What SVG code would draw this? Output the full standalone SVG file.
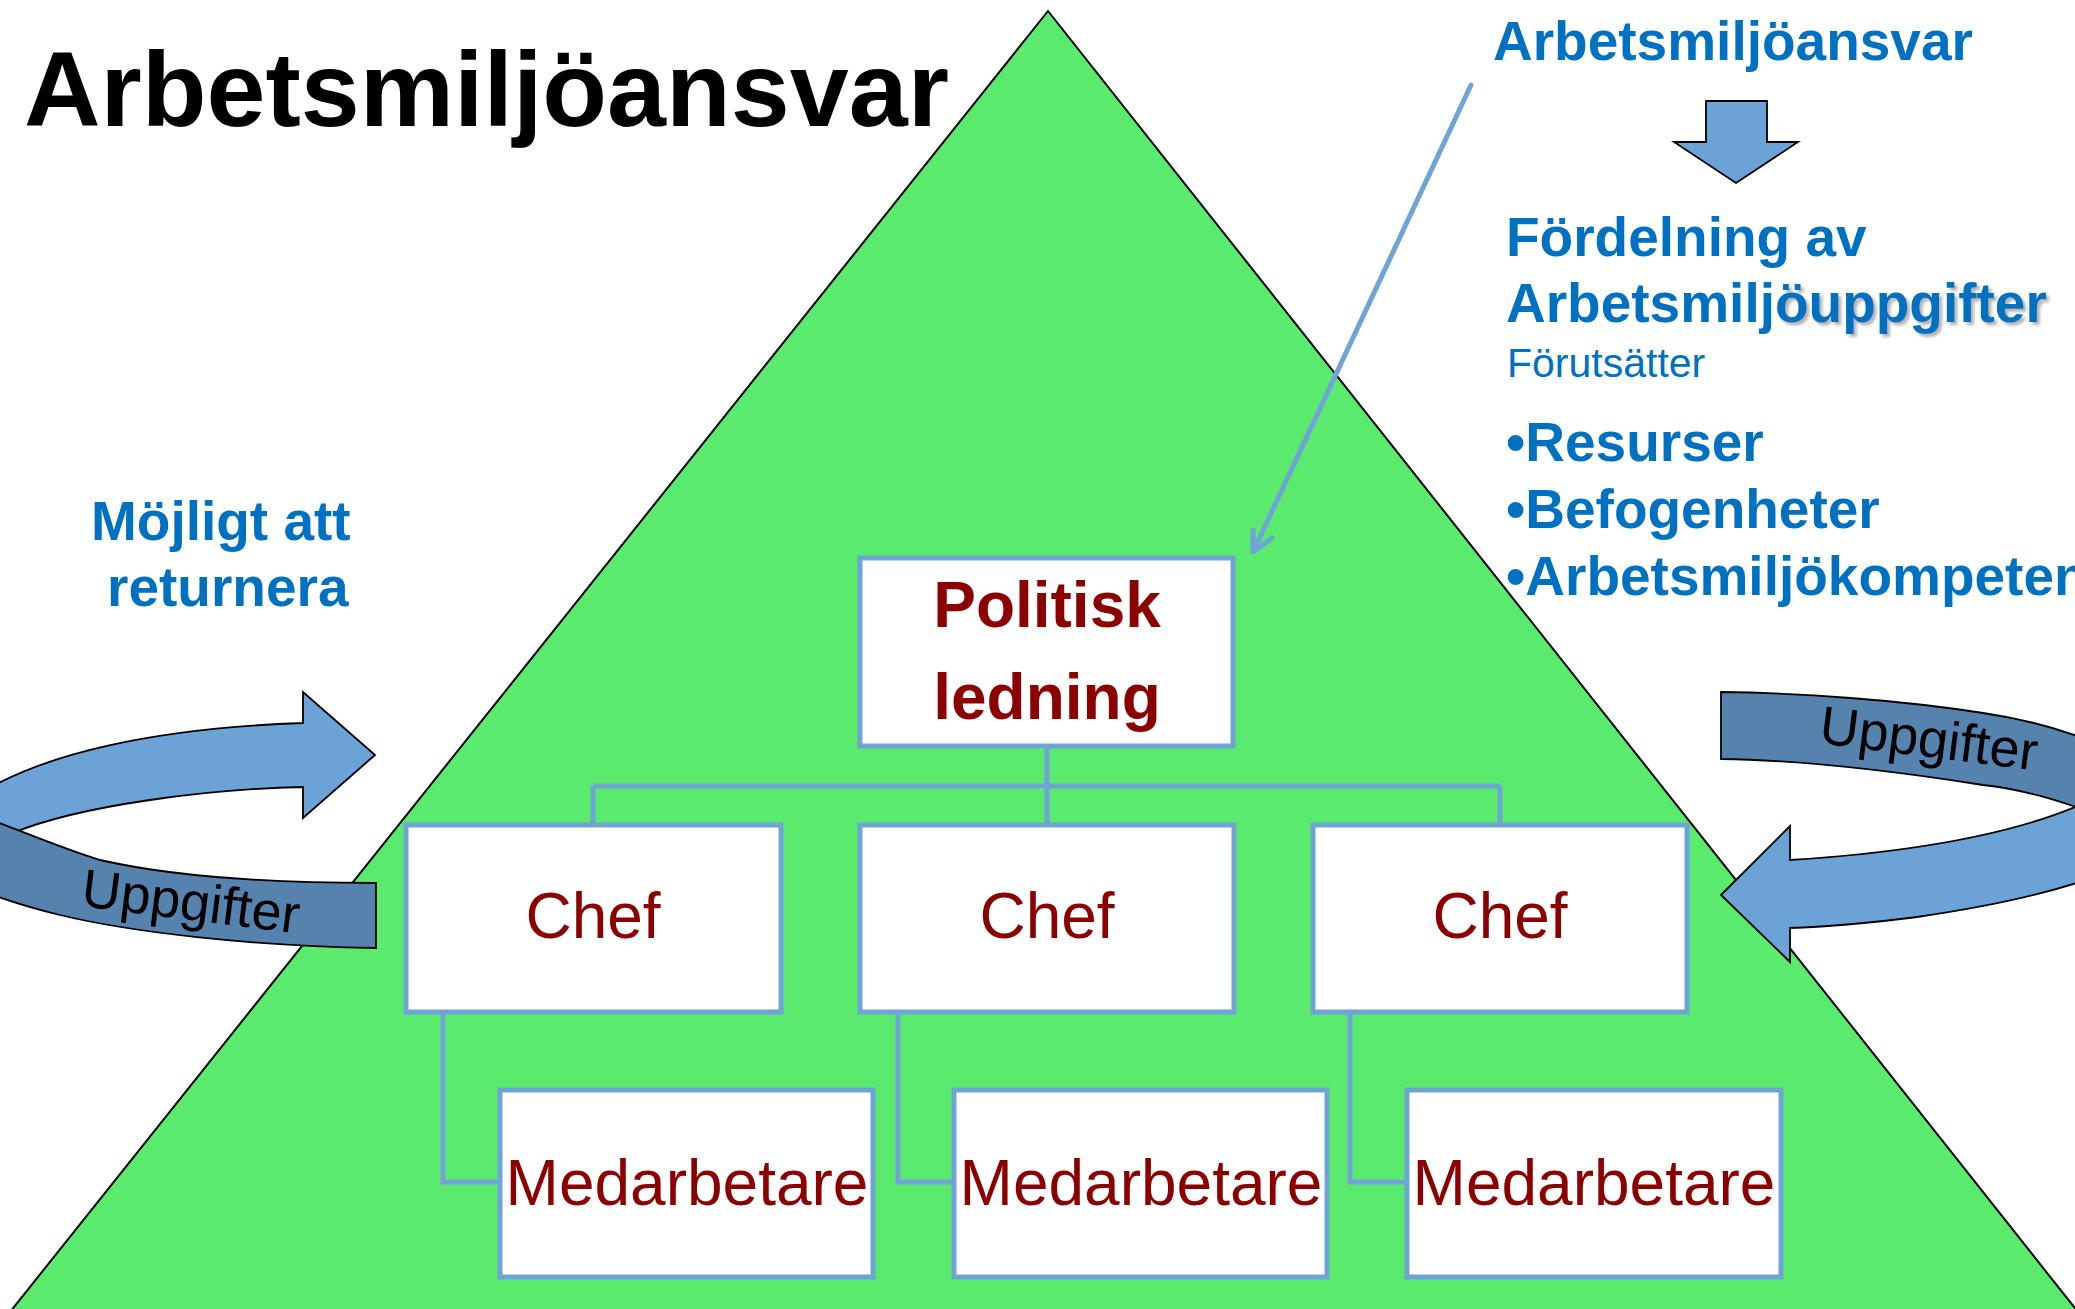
<svg xmlns="http://www.w3.org/2000/svg" width="2075" height="1309" viewBox="0 0 2075 1309">
<defs>
<style>
.sans{font-family:"Liberation Sans",Arial,Helvetica,sans-serif}
.bold{font-weight:bold}
.blue{fill:#0070C0}
.node rect{fill:#ffffff;stroke:#70A3D6;stroke-width:5}
.lbl{fill:#8B0000;font-family:"Liberation Sans",Arial,Helvetica,sans-serif;font-size:64px;text-anchor:middle}
.conn path{stroke:#70A3D6;stroke-width:5;fill:none}
.arcL{fill:#6CA3D6;stroke:#000;stroke-width:1.8;stroke-linejoin:miter}
.arcD{fill:#5682AE;stroke:#000;stroke-width:1.8}
.upp{font-family:"Liberation Sans",Arial,Helvetica,sans-serif;font-size:54px;fill:#000}
</style>
<filter id="sh" filterUnits="userSpaceOnUse" primitiveUnits="userSpaceOnUse" x="1400" y="250" width="700" height="110">
<feGaussianBlur in="SourceAlpha" stdDeviation="1.8" result="b"/>
<feOffset in="b" dx="3" dy="3" result="o"/>
<feFlood flood-color="#8a8a8a" flood-opacity="0.65" x="1776" y="250" width="330" height="110" result="f"/>
<feComposite in="f" in2="o" operator="in" result="s"/>
<feMerge><feMergeNode in="s"/><feMergeNode in="SourceGraphic"/></feMerge>
</filter>
</defs>
<rect x="0" y="0" width="2075" height="1309" fill="#ffffff"/>

<g id="pyramid">
<polygon points="1048,11 10,1312 2078,1312" fill="#5AEB6E" stroke="#000" stroke-width="2"/>
</g>

<g id="title">
<text class="sans bold" x="24" y="126" font-size="106" fill="#000">Arbetsmiljöansvar</text>
</g>

<g id="right-text">
<text class="sans bold blue" x="1493" y="60" font-size="55">Arbetsmiljöansvar</text>
<path d="M1706,101 L1767,101 L1767,142 L1798,142 L1736,183 L1674,142 L1706,142 Z" fill="#6CA3D6" stroke="#000" stroke-width="1.8"/>
<text class="sans bold blue" x="1506" y="256" font-size="55">Fördelning av</text>
<text class="sans bold blue" x="1506" y="322" font-size="55" filter="url(#sh)">Arbetsmiljöuppgifter</text>
<text class="sans blue" x="1507" y="377" font-size="41">Förutsätter</text>
<text class="sans bold blue" x="1506" y="461" font-size="55">•Resurser</text>
<text class="sans bold blue" x="1506" y="528" font-size="55">•Befogenheter</text>
<text class="sans bold blue" x="1506" y="595" font-size="55">•Arbetsmiljökompetens</text>
</g>

<g id="left-text">
<text class="sans bold blue" x="91" y="540" font-size="55">Möjligt att</text>
<text class="sans bold blue" x="107" y="606" font-size="55">returnera</text>
</g>

<g id="left-loop">
<path class="arcL" d="M-30,800 C40,752 160,728 303,723 L303,692 L375,755 L303,818 L303,787 C210,789 80,805 13,833 L-30,815 Z"/>
<path class="arcD" d="M-30,812 C20,830 60,848 100,860 C170,876 260,883 376,883 L376,948 C250,946 130,932 60,915 C20,905 -10,895 -30,885 Z"/>
<text class="upp" x="80" y="906" transform="rotate(7.2 80 906)">Uppgifter</text>
</g>

<g id="right-loop">
<path class="arcD" d="M1721,692 C1800,693 1900,700 1983,713 C2030,720 2070,732 2100,745 L2100,815 C2070,805 2030,790 1983,785 C1900,772 1800,760 1721,759 Z"/>
<path class="arcL" d="M1721,895 L1790,826 L1790,860 C1900,853 2000,838 2075,807 L2100,795 L2100,875 C2060,890 2000,905 1917,917 C1870,923 1830,927 1790,928 L1790,962 Z"/>
<text class="upp" x="1818" y="743" transform="rotate(7.2 1818 743)">Uppgifter</text>
</g>

<g id="connectors" class="conn">
<path d="M1047,746 V786 M593,786 H1500 M593,786 V825 M1047,786 V825 M1500,786 V825"/>
<path d="M443,1012 V1182 H500"/>
<path d="M898,1012 V1182 H954"/>
<path d="M1350,1012 V1182 H1407"/>
<path d="M1471,85 L1253,552 M1253,530 L1253,552 L1272,538" stroke-width="4" stroke-linecap="round" stroke-linejoin="round"/>
</g>

<g id="node-politisk" class="node">
<rect x="860" y="558" width="373" height="188"/>
<text class="lbl bold" x="1047" y="627">Politisk</text>
<text class="lbl bold" x="1047" y="719">ledning</text>
</g>
<g id="node-chef1" class="node">
<rect x="406" y="825" width="375" height="187"/>
<text class="lbl" x="593" y="938">Chef</text>
</g>
<g id="node-chef2" class="node">
<rect x="860" y="825" width="374" height="187"/>
<text class="lbl" x="1047" y="938">Chef</text>
</g>
<g id="node-chef3" class="node">
<rect x="1313" y="825" width="374" height="187"/>
<text class="lbl" x="1500" y="938">Chef</text>
</g>
<g id="node-med1" class="node">
<rect x="500" y="1090" width="373" height="187"/>
<text class="lbl" x="687" y="1205">Medarbetare</text>
</g>
<g id="node-med2" class="node">
<rect x="954" y="1090" width="373" height="187"/>
<text class="lbl" x="1141" y="1205">Medarbetare</text>
</g>
<g id="node-med3" class="node">
<rect x="1407" y="1090" width="374" height="187"/>
<text class="lbl" x="1594" y="1205">Medarbetare</text>
</g>
</svg>
